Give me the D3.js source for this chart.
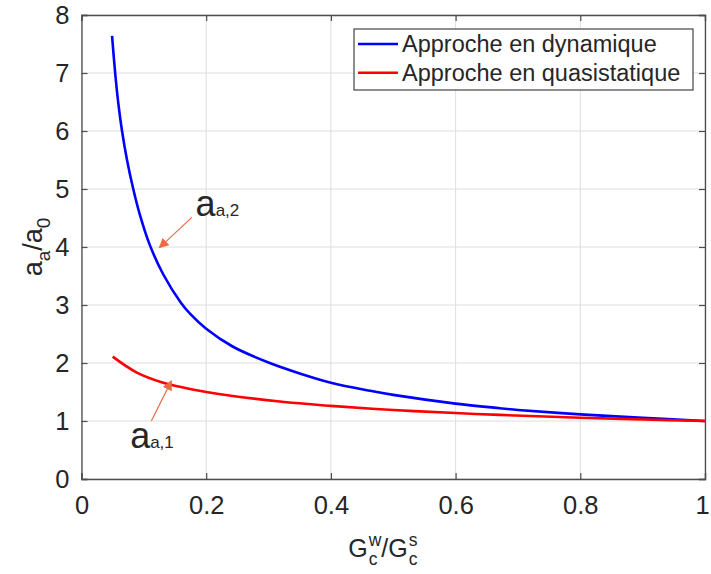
<!DOCTYPE html>
<html><head><meta charset="utf-8">
<script src="https://cdn.jsdelivr.net/npm/d3@7"></script>
<style>body{margin:0;background:#fff}text{font-family:"Liberation Sans",Arial,sans-serif;fill:#262626}</style>
</head><body><svg id="c" width="711" height="574"></svg>
<script>
// ---- data ----
const xTicks = [0, 0.2, 0.4, 0.6, 0.8, 1];
const yTicks = [0, 1, 2, 3, 4, 5, 6, 7, 8];
const seriesNames = ["Approche en dynamique", "Approche en quasistatique"];
const seriesColors = ["#0000ff", "#ff0000"];
const dynX = [0.049, 0.054, 0.059, 0.065, 0.073, 0.083, 0.093, 0.109, 0.131, 0.16, 0.174, 0.2, 0.243, 0.302, 0.35, 0.4, 0.463, 0.5, 0.6, 0.671, 0.7, 0.8, 0.9, 1.0];
const dynY = [7.64, 7.0, 6.48, 6.0, 5.5, 5.0, 4.58, 4.05, 3.53, 3.03, 2.85, 2.59, 2.28, 2.0, 1.82, 1.66, 1.52, 1.45, 1.30, 1.22, 1.19, 1.115, 1.055, 1.0];
const qsX = [0.05, 0.088, 0.131, 0.158, 0.2, 0.318, 0.4, 0.5, 0.6, 0.671, 0.8, 0.9, 1.0];
const qsY = [2.11, 1.84, 1.66, 1.59, 1.50, 1.335, 1.26, 1.19, 1.137, 1.105, 1.057, 1.027, 1.0];

const svg = d3.select("#c");
const L = 81.5, R = 705, T = 15, B = 479;
const x = d3.scaleLinear().domain([0, 1]).range([L, R]);
const y = d3.scaleLinear().domain([0, 8]).range([B, T]);

// grid
const g = svg.append("g");
g.selectAll(".vg").data(xTicks).join("line")
  .attr("x1", d => x(d)).attr("x2", d => x(d)).attr("y1", T).attr("y2", B)
  .attr("stroke", "#dedede").attr("stroke-width", 1);
g.selectAll(".hg").data(yTicks).join("line")
  .attr("x1", L).attr("x2", R).attr("y1", d => y(d)).attr("y2", d => y(d))
  .attr("stroke", "#dedede").attr("stroke-width", 1);

// axes with inner ticks
const axB = d3.axisBottom(x).tickValues(xTicks).tickSize(-6).tickPadding(17).tickFormat(d => d3.format("")(d));
const axL = d3.axisLeft(y).tickValues(yTicks).tickSize(-6).tickPadding(12);
const axT = d3.axisTop(x).tickValues(xTicks).tickSize(-6).tickFormat("");
const axR = d3.axisRight(y).tickValues(yTicks).tickSize(-6).tickFormat("");
function styleAx(sel){
  sel.select(".domain").attr("stroke", "#4d4d4d").attr("stroke-width", 1.3);
  sel.selectAll(".tick line").attr("stroke", "#4d4d4d").attr("stroke-width", 1.2);
  sel.selectAll(".tick text").style("font-size", "25.5px").attr("fill", "#262626")
     .style("font-family", '"Liberation Sans",Arial,sans-serif');
}
const gB = svg.append("g").attr("transform", `translate(0,${B})`).call(axB).call(styleAx);
gB.selectAll(".tick text").filter(d => d === 1).attr("dx", -3);
svg.append("g").attr("transform", `translate(${L},0)`).call(axL).call(styleAx);
svg.append("g").attr("transform", `translate(0,${T})`).call(axT).call(styleAx);
svg.append("g").attr("transform", `translate(${R},0)`).call(axR).call(styleAx);

// lines
const line = d3.line().x(d => x(d[0])).y(d => y(d[1])).curve(d3.curveCatmullRom.alpha(0.5));
const series = [d3.zip(dynX, dynY), d3.zip(qsX, qsY)];
svg.selectAll(".ser").data(series).join("path")
  .attr("d", line).attr("fill", "none")
  .attr("stroke", (d, i) => seriesColors[i]).attr("stroke-width", 2.6);

// legend
const lg = svg.append("g");
lg.append("rect").attr("x", 354).attr("y", 29).attr("width", 339).attr("height", 61)
  .attr("fill", "#fff").attr("stroke", "#444").attr("stroke-width", 1.2);
seriesNames.forEach((n, i) => {
  const yy = 44 + i * 28.7;
  lg.append("line").attr("x1", 358).attr("x2", 398).attr("y1", yy).attr("y2", yy)
    .attr("stroke", seriesColors[i]).attr("stroke-width", 2.6);
  lg.append("text").attr("x", 402).attr("y", yy + 8).style("font-size", "23.5px").text(n);
});

// annotations
const arrowColor = "#ef6a42";
svg.append("defs").append("marker").attr("id", "ah").attr("viewBox", "0 0 10 10")
  .attr("refX", 9).attr("refY", 5).attr("markerWidth", 10).attr("markerHeight", 10)
  .attr("markerUnits", "userSpaceOnUse").attr("orient", "auto")
  .append("path").attr("d", "M0,0 L10,5 L0,10 z").attr("fill", arrowColor);
const arrows = [[0.177, 4.51, 0.125, 3.99], [0.112, 1.0, 0.144, 1.69]];
svg.selectAll(".arr").data(arrows).join("line")
  .attr("x1", d => x(d[0])).attr("y1", d => y(d[1])).attr("x2", d => x(d[2])).attr("y2", d => y(d[3]))
  .attr("stroke", arrowColor).attr("stroke-width", 1.2).attr("marker-end", "url(#ah)");
const labels = [[0.183, 4.53, "a,2"], [0.078, 0.53, "a,1"]];
labels.forEach(l => {
  const t = svg.append("text").attr("x", x(l[0])).attr("y", y(l[1])).attr("fill", "#111");
  t.append("tspan").style("font-size", "36px").text("a");
  t.append("tspan").style("font-size", "17px").text(l[2]);
});

// x label: G_c^w / G_c^s
function stacked(parent, x0, base, big, sup, sub, fs, sfs){
  const t1 = parent.append("text").attr("x", x0).attr("y", base).style("font-size", fs + "px").text(big);
  const w1 = t1.node().getComputedTextLength();
  const a = parent.append("text").attr("x", x0 + w1 + 1).attr("y", base - fs * 0.45).style("font-size", sfs + "px").text(sup);
  const b = parent.append("text").attr("x", x0 + w1 + 1).attr("y", base + fs * 0.33).style("font-size", sfs + "px").text(sub);
  return x0 + w1 + 1 + Math.max(a.node().getComputedTextLength(), b.node().getComputedTextLength());
}
const xl = svg.append("g");
let cx = 350;
cx = stacked(xl, cx, 557, "G", "w", "c", 25, 17.5);
const sl = xl.append("text").attr("x", cx).attr("y", 557).style("font-size", "25px").text("/");
cx += sl.node().getComputedTextLength();
cx = stacked(xl, cx, 557, "G", "s", "c", 25, 17.5);
const bb = xl.node().getBBox();
xl.attr("transform", `translate(${383 - (bb.x + bb.width / 2)},0)`);

// y label: a_a / a_0
const yl = svg.append("g");
const ytxt = yl.append("text").attr("x", 0).attr("y", 0).style("font-size", "27px");
ytxt.append("tspan").text("a");
ytxt.append("tspan").style("font-size", "19px").attr("dy", 8).text("a");
ytxt.append("tspan").attr("dy", -8).text("/a");
ytxt.append("tspan").style("font-size", "19px").attr("dy", 8).text("0");
const yb = ytxt.node().getBBox();
yl.attr("transform", `translate(42,${(T + B) / 2}) rotate(-90) translate(${-yb.width / 2},0)`);
</script></body></html>
